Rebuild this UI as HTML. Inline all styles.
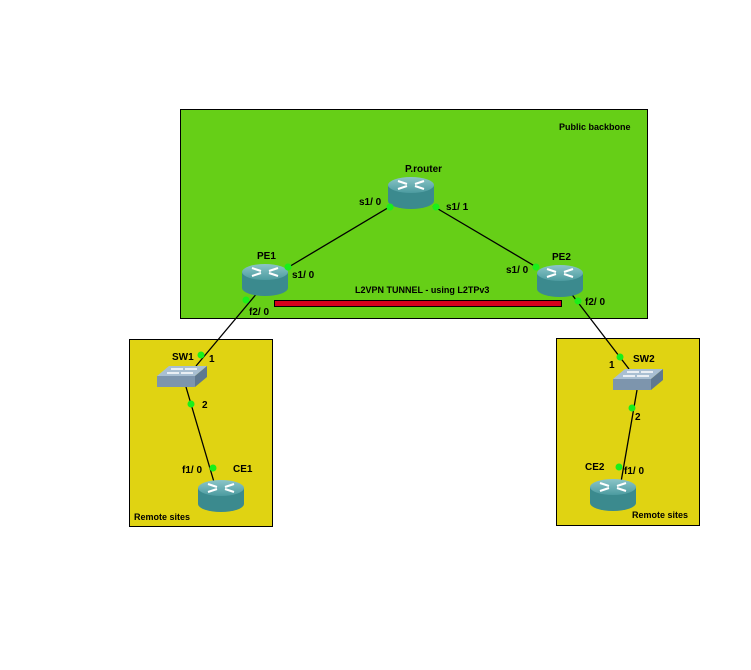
<!DOCTYPE html>
<html><head><meta charset="utf-8"><style>
html,body{margin:0;padding:0;background:#fff;}
svg{display:block;font-family:"Liberation Sans","DejaVu Sans",sans-serif;}
text{font-size:10px;font-weight:bold;fill:#000;}
</style></head><body>
<svg width="751" height="670" viewBox="0 0 751 670" xmlns="http://www.w3.org/2000/svg">
<defs>
<linearGradient id="rt" x1="0" y1="0" x2="0" y2="1"><stop offset="0" stop-color="#8cc5c8"/><stop offset="1" stop-color="#4c9ba0"/></linearGradient>
<g id="router">
<path d="M-23 0 L-23 16 A23 8 0 0 0 23 16 L23 0 Z" fill="#3b8a8e"/>
<ellipse cx="0" cy="0" rx="23" ry="8" fill="url(#rt)"/>
<g stroke="#fff" stroke-width="2" fill="none">
<path d="M-13 -4 L-4 -1 M13 -4 L4 -1 M-13 4 L-4 1 M13 4 L4 1"/>
</g>
</g>
<g id="switch">
<polygon points="0,10 12,0 50,0 38,10" fill="#a9bfd2"/>
<polygon points="0,10 38,10 38,21 0,21" fill="#7d95ad"/>
<polygon points="38,10 50,0 50,11 38,21" fill="#5f7890"/>
<g stroke="#fff" stroke-width="1.5"><path d="M14 3 L26 3 M24 7 L36 7 M28 3 L40 3 M10 7 L22 7"/></g>
</g>
</defs>
<rect x="180.5" y="109.5" width="467" height="209" fill="#66cf17" stroke="#000"/>
<text x="559" y="130" style="font-size:9px">Public backbone</text>
<rect x="129.5" y="339.5" width="143" height="187" fill="#e0d312" stroke="#000"/>
<text x="134" y="520" style="font-size:9px">Remote sites</text>
<rect x="556.5" y="338.5" width="143" height="187" fill="#e0d312" stroke="#000"/>
<text x="632" y="518" style="font-size:9px">Remote sites</text>

<g stroke="#000" stroke-width="1.3">
<line x1="391" y1="206" x2="287" y2="268"/>
<line x1="433" y1="206" x2="538" y2="268"/>
<line x1="258" y1="292" x2="196" y2="366"/>
<line x1="570" y1="292" x2="629" y2="369"/>
<line x1="186" y1="387" x2="214" y2="482"/>
<line x1="637" y1="390" x2="621" y2="482"/>
</g>
<rect x="274.5" y="300.5" width="287" height="6" fill="#d4001c" stroke="#000"/>
<text x="355" y="293" style="font-size:9px">L2VPN TUNNEL - using L2TPv3</text>

<use href="#router" x="411" y="185"/>
<use href="#router" x="265" y="272"/>
<use href="#router" x="560" y="273"/>
<use href="#router" x="221" y="488"/>
<use href="#router" x="613" y="487"/>
<use href="#switch" x="157" y="366"/>
<use href="#switch" x="613" y="369"/>

<g fill="#19f019">
<circle cx="288" cy="267" r="3.5"/><circle cx="390" cy="207" r="3.5"/><circle cx="436" cy="207" r="3.5"/>
<circle cx="536" cy="267" r="3.5"/><circle cx="246" cy="300" r="3.5"/><circle cx="201" cy="355" r="3.5"/>
<circle cx="191" cy="404" r="3.5"/><circle cx="213" cy="468" r="3.5"/><circle cx="578" cy="301" r="3.5"/>
<circle cx="620" cy="357" r="3.5"/><circle cx="632" cy="408" r="3.5"/><circle cx="619" cy="467" r="3.5"/>
</g>

<text x="405" y="172">P.router</text>
<text x="359" y="205">s1/ 0</text>
<text x="446" y="210">s1/ 1</text>
<text x="257" y="259">PE1</text>
<text x="292" y="278">s1/ 0</text>
<text x="249" y="315">f2/ 0</text>
<text x="552" y="260">PE2</text>
<text x="506" y="273">s1/ 0</text>
<text x="585" y="305">f2/ 0</text>
<text x="172" y="360">SW1</text>
<text x="209" y="362">1</text>
<text x="202" y="408">2</text>
<text x="182" y="473">f1/ 0</text>
<text x="233" y="472">CE1</text>
<text x="633" y="362">SW2</text>
<text x="609" y="368">1</text>
<text x="635" y="420">2</text>
<text x="585" y="470">CE2</text>
<text x="624" y="474">f1/ 0</text>
</svg>
</body></html>
